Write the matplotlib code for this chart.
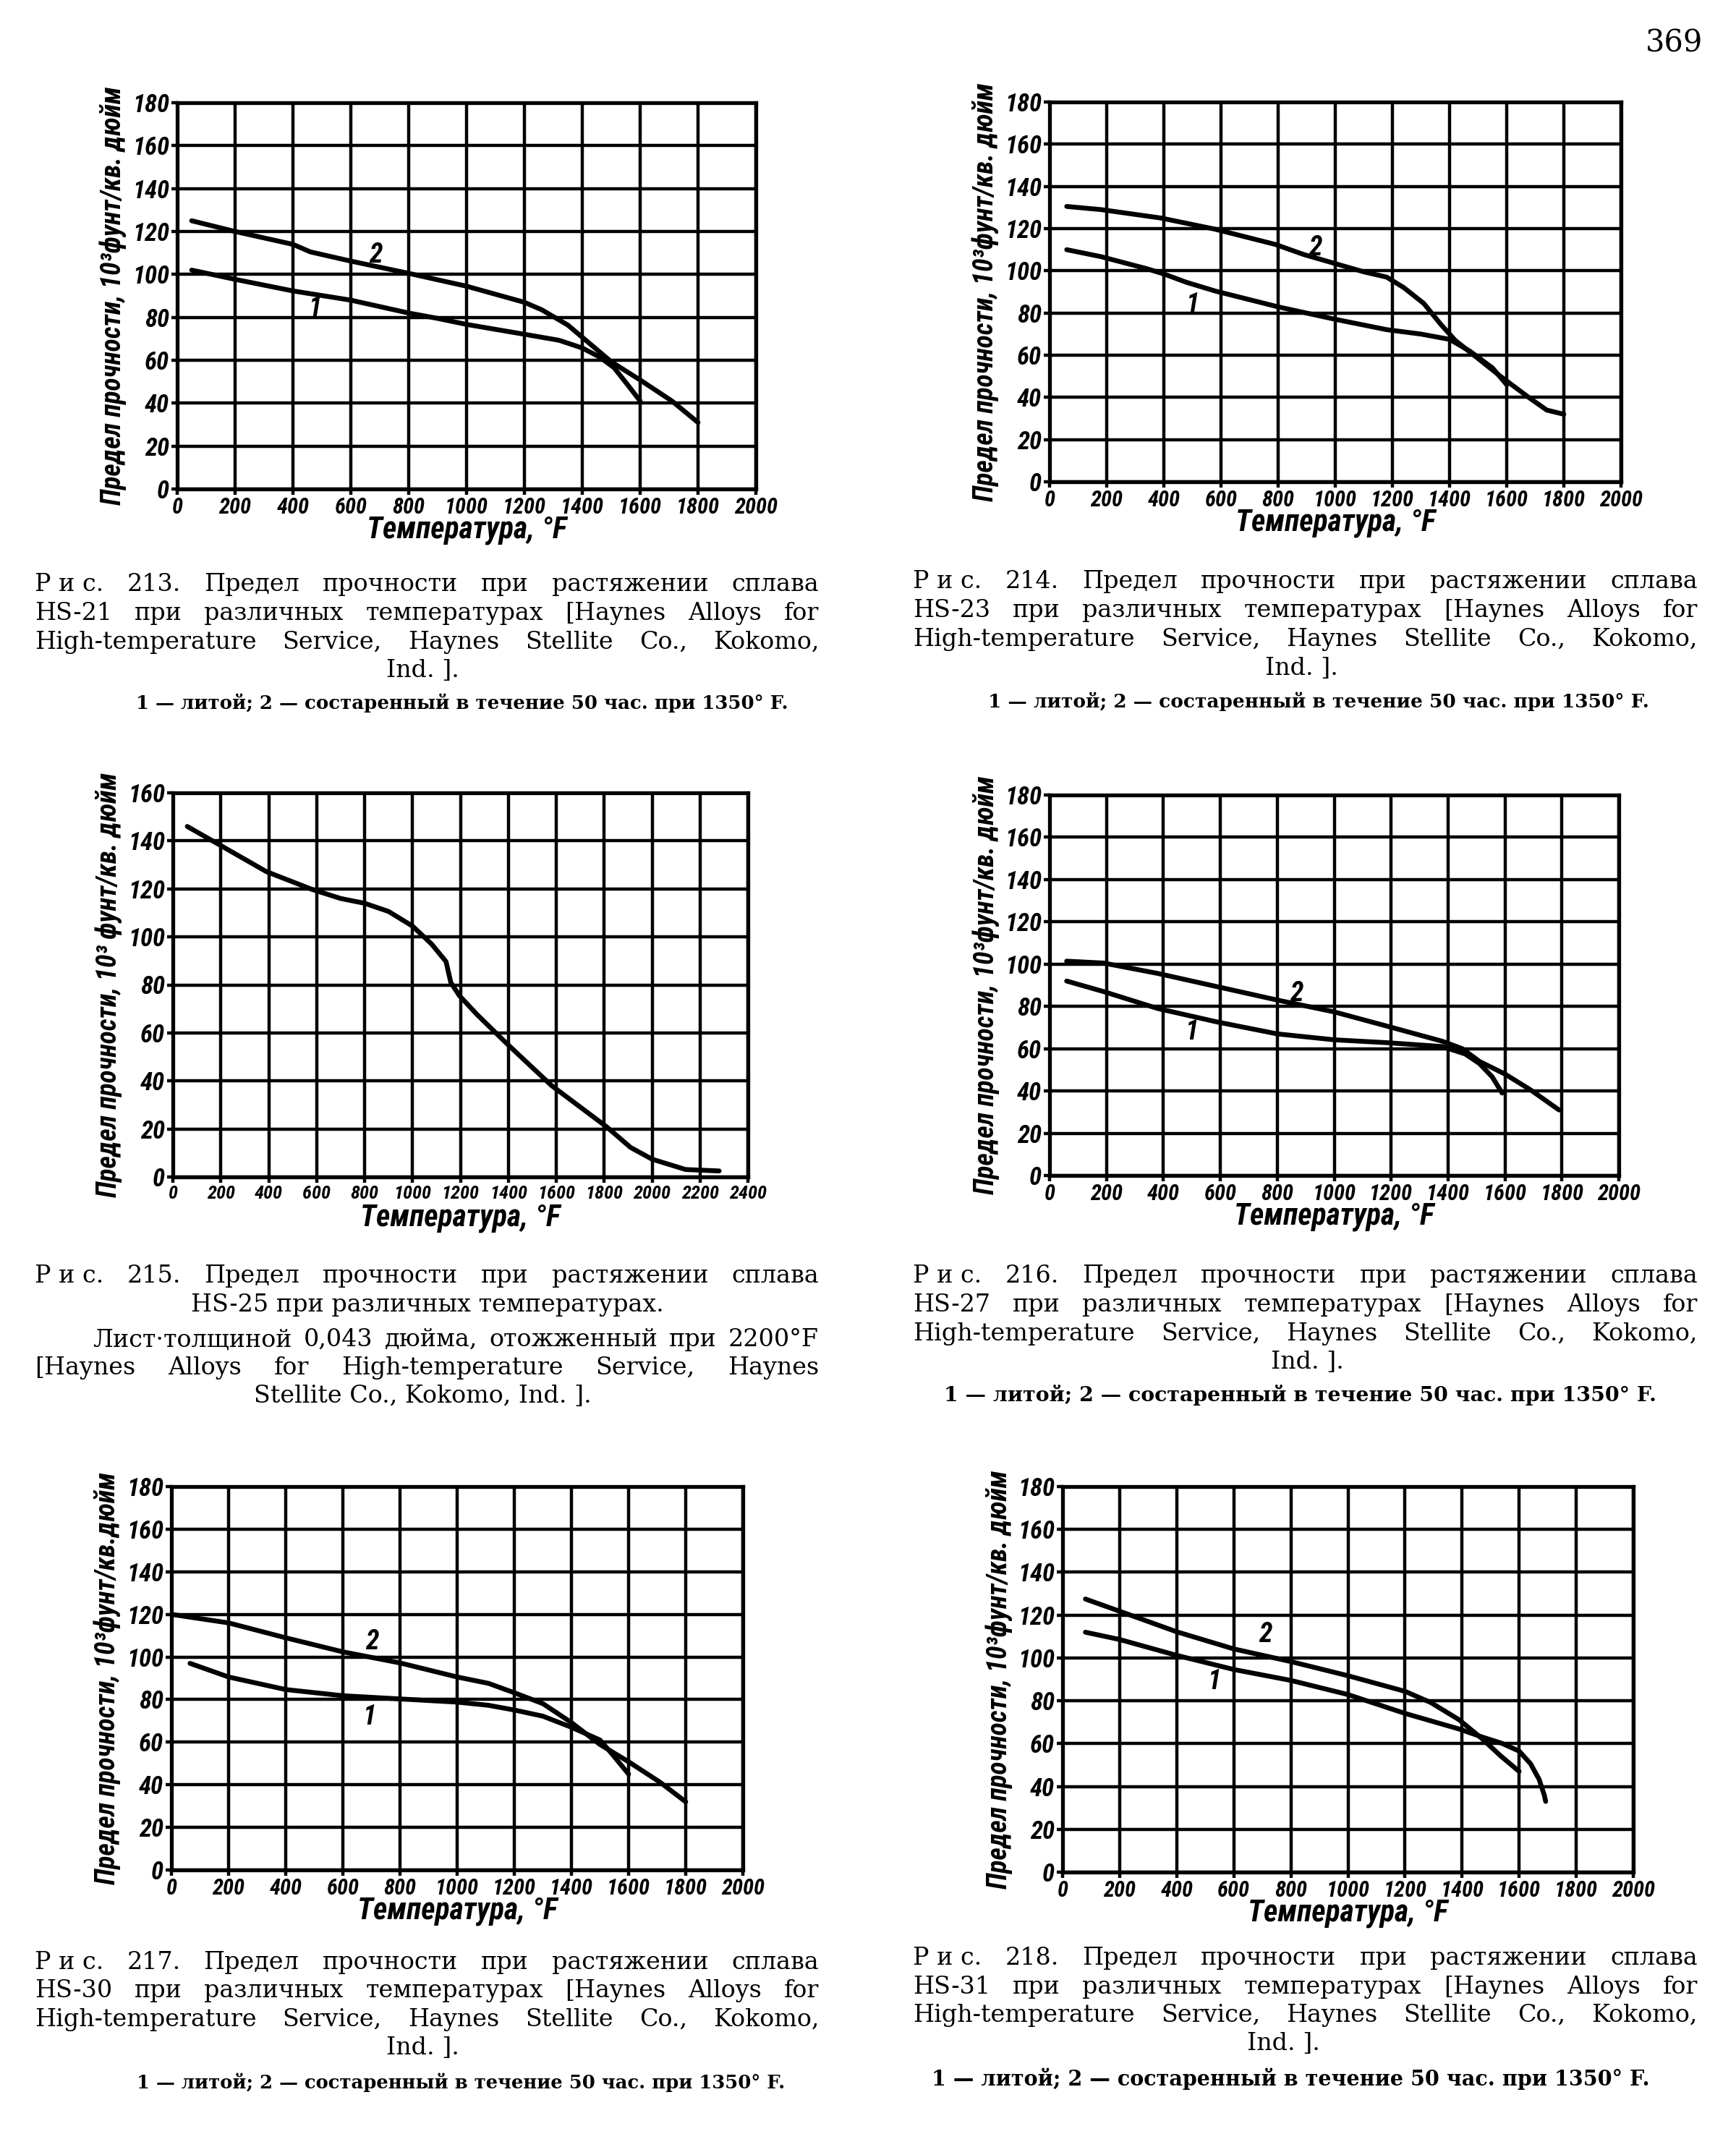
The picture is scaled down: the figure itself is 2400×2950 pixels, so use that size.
import matplotlib
matplotlib.use("Agg")
import matplotlib.pyplot as plt

# ---------------- data ----------------
# Fig. 213, HS-21
fig213_cast_T = [50, 200, 400, 600, 800, 900, 1000, 1200, 1320, 1400, 1460, 1510, 1560, 1600]
fig213_cast_S = [102, 97.7, 92.3, 88, 82, 79.5, 76.7, 72.1, 69.3, 65.7, 61.5, 56.5, 48, 41]
fig213_aged_T = [50, 200, 400, 460, 600, 800, 1000, 1200, 1260, 1350, 1400, 1500, 1600, 1710, 1800]
fig213_aged_S = [125, 120, 114, 110.5, 106.2, 100.5, 94.5, 87, 83.5, 76.4, 70.7, 59.3, 50.8, 41, 31]

# Fig. 214, HS-23
fig214_cast_T = [60, 180, 340, 400, 480, 580, 800, 1000, 1180, 1300, 1400, 1470, 1550, 1600]
fig214_cast_S = [110, 106.7, 101, 98.5, 94.5, 90.4, 82.9, 77, 72.1, 70, 67.5, 62, 54, 46]
fig214_aged_T = [60, 180, 390, 580, 790, 890, 1000, 1100, 1180, 1240, 1310, 1370, 1420, 1500, 1580, 1680, 1740, 1800]
fig214_aged_S = [130.5, 129, 125, 119.7, 112.5, 107.7, 103.4, 99.5, 97, 92, 84.5, 74.5, 67, 58.4, 49.8, 39.7, 34, 32]

# Fig. 215, HS-25
fig215_T = [60, 190, 390, 580, 700, 800, 900, 1000, 1080, 1140, 1160, 1195, 1270, 1390, 1580, 1810, 1910, 2000, 2140, 2280]
fig215_S = [146, 138.6, 127.2, 119.8, 116, 114, 110.6, 104.5, 97, 89.7, 81, 75.6, 67.6, 55.9, 38.1, 20.9, 12.3, 7.4, 3.1, 2.5]

# Fig. 216, HS-27
fig216_cast_T = [60, 190, 380, 590, 800, 1000, 1190, 1380, 1460, 1510, 1555, 1590]
fig216_cast_S = [92, 87, 79, 72.6, 67, 64.2, 62.8, 61, 57.5, 53, 46.7, 39]
fig216_aged_T = [60, 190, 380, 590, 800, 1000, 1190, 1380, 1450, 1510, 1600, 1690, 1790]
fig216_aged_S = [101.4, 100.5, 95.6, 89.3, 83, 77.4, 70.5, 63.5, 60, 54, 48, 40.5, 31]

# Fig. 217, HS-30
fig217_cast_T = [65, 200, 400, 600, 800, 1000, 1110, 1200, 1300, 1400, 1500, 1545, 1600]
fig217_cast_S = [97, 90.6, 84.7, 81.8, 80.3, 78.8, 77.3, 75.1, 72.2, 67, 61, 54, 45]
fig217_aged_T = [0, 200, 400, 600, 800, 1000, 1110, 1200, 1300, 1400, 1500, 1600, 1710, 1800]
fig217_aged_S = [120, 116, 109, 102.4, 97.2, 90.6, 87.6, 83.2, 78.1, 69.2, 58.9, 50.8, 41.2, 32]

# Fig. 218, HS-31
fig218_cast_T = [80, 200, 400, 600, 800, 1000, 1200, 1390, 1470, 1540, 1600, 1640, 1670, 1688, 1693]
fig218_cast_S = [112, 108.6, 101.2, 94.6, 89.5, 82.9, 74.1, 66.8, 63.1, 60.1, 56.5, 50.6, 43.3, 36, 33]
fig218_aged_T = [80, 200, 400, 600, 800, 1000, 1200, 1290, 1390, 1470, 1535, 1600]
fig218_aged_S = [127.5, 121.8, 112.2, 104.2, 98.3, 91.7, 84.4, 79.2, 71.1, 62.3, 54.3, 47]

x_label = "Температура, °F"
y_label_a = "Предел прочности, 10³фунт/кв. дюйм"
y_label_b = "Предел прочности, 10³ фунт/кв. дюйм"
y_label_c = "Предел прочности, 10³фунт/кв.дюйм"

legend_text = "1 — литой; 2 — состаренный в течение 50 час. при 1350° F."
src1 = "High-temperature Service, Haynes Stellite Co., Kokomo,"

# ---------------- figure ----------------
W, H, DPI = 2400, 2950, 100
fig = plt.figure(figsize=(W / DPI, H / DPI), dpi=DPI)
fig.patch.set_facecolor("white")

CF = dict(family=["Roboto Condensed", "Roboto", "DejaVu Sans"], weight="bold", style="italic")
SERIF = ["DejaVu Serif"]


def add_axes(left, right, top, bottom):
    return fig.add_axes([left / W, 1 - bottom / H, (right - left) / W, (bottom - top) / H])


def draw_chart(box, xmax, ymax, curves, labels, ylabel):
    ax = add_axes(*box)
    ax.set_xlim(0, xmax)
    ax.set_ylim(0, ymax)
    xt = list(range(0, xmax + 1, 200))
    yt = list(range(0, ymax + 1, 20))
    ax.set_xticks(xt)
    ax.set_yticks(yt)
    xsize = 22 if xmax <= 2000 else 19
    ax.set_xticklabels([str(v) for v in xt], fontsize=xsize, **CF)
    ax.set_yticklabels([str(v) for v in yt], fontsize=25, **CF)
    ax.grid(True, color="black", lw=3.2)
    ax.set_axisbelow(True)
    for sp in ax.spines.values():
        sp.set_linewidth(3.8)
        sp.set_color("black")
    ax.tick_params(length=6, width=3.2, direction="out", pad=2, colors="black")
    for T, S in curves:
        ax.plot(T, S, color="black", lw=4.8, solid_capstyle="round",
                solid_joinstyle="round", zorder=3)
    for txt, (x, y) in labels:
        ax.text(x, y, txt, fontsize=27, ha="center", va="center", zorder=4, **CF)
    ax.set_ylabel(ylabel, fontsize=27, **CF)
    ax.yaxis.set_label_coords(-0.088, 0.5)
    ax.set_xlabel(x_label, fontsize=30, **CF)
    ax.xaxis.set_label_coords(0.5, -0.068)
    return ax


draw_chart((245, 1045, 142, 676), 2000, 180,
           [(fig213_cast_T, fig213_cast_S), (fig213_aged_T, fig213_aged_S)],
           [("2", (685, 109)), ("1", (478, 84))], y_label_a)
draw_chart((1451, 2241, 141, 666), 2000, 180,
           [(fig214_cast_T, fig214_cast_S), (fig214_aged_T, fig214_aged_S)],
           [("2", (929, 111)), ("1", (501, 84))], y_label_a)
draw_chart((239, 1034, 1096, 1627), 2400, 160,
           [(fig215_T, fig215_S)], [], y_label_b)
draw_chart((1451, 2238, 1099, 1625), 2000, 180,
           [(fig216_cast_T, fig216_cast_S), (fig216_aged_T, fig216_aged_S)],
           [("2", (866, 86)), ("1", (502, 68))], y_label_a)
draw_chart((237, 1027, 2055, 2585), 2000, 180,
           [(fig217_cast_T, fig217_cast_S), (fig217_aged_T, fig217_aged_S)],
           [("2", (703, 107)), ("1", (695, 72))], y_label_c)
draw_chart((1469, 2258, 2055, 2588), 2000, 180,
           [(fig218_cast_T, fig218_cast_S), (fig218_aged_T, fig218_aged_S)],
           [("2", (710, 111)), ("1", (532, 89))], y_label_a)

# ---------------- captions ----------------
renderer = fig.canvas.get_renderer()


def text_w(t):
    return t.get_window_extent(renderer).width


def justified(text, x0, x1, yc, size=24, weight="normal"):
    toks = text.split(" ")
    yb = 1 - (yc + 11) / H
    while True:
        arts = [fig.text(0, yb, t, fontsize=size, family=SERIF, weight=weight,
                         ha="left", va="baseline") for t in toks]
        ws = [text_w(a) for a in arts]
        minsp = 0.22 * size * DPI / 72
        need = sum(ws) + minsp * (len(toks) - 1)
        if need <= (x1 - x0) or size < 8:
            break
        for a in arts:
            a.remove()
        size *= (x1 - x0) / need * 0.995
    gap = ((x1 - x0) - sum(ws)) / max(len(toks) - 1, 1)
    x = x0
    for a, w in zip(arts, ws):
        a.set_x(x / W)
        x += w + gap


def centered(text, cx, yc, size=24, weight="normal"):
    fig.text(cx / W, 1 - (yc + 11) / H, text, fontsize=size, family=SERIF,
             weight=weight, ha="center", va="baseline")


def fitted(text, x0, x1, yc, size=19, weight="bold"):
    a = fig.text((x0 + x1) / 2 / W, 1 - (yc + 9) / H, text, fontsize=size,
                 family=SERIF, weight=weight, ha="center", va="baseline")
    w = text_w(a)
    a.set_fontsize(size * (x1 - x0) / w)


LX0, LX1 = 48, 1132
RX0, RX1 = 1262, 2347

# Fig 213
justified("Р\u00a0и\u00a0с. 213. Предел прочности при растяжении сплава", LX0, LX1, 806)
justified("HS-21 при различных температурах [Haynes Alloys for", LX0, LX1, 846)
justified(src1, LX0, LX1, 886)
centered("Ind. ].", 584, 925)
fitted(legend_text, 188, 1089, 971)

# Fig 214
justified("Р\u00a0и\u00a0с. 214. Предел прочности при растяжении сплава", RX0, RX1, 802)
justified("HS-23 при различных температурах [Haynes Alloys for", RX0, RX1, 842)
justified(src1, RX0, RX1, 882)
centered("Ind. ].", 1799, 922)
fitted(legend_text, 1365, 2281, 969)

# Fig 215
justified("Р\u00a0и\u00a0с. 215. Предел прочности при растяжении сплава", LX0, LX1, 1762)
centered("HS-25 при различных температурах.", 591, 1802)
justified("Лист·толщиной 0,043 дюйма, отожженный при 2200°F", 128, LX1, 1850)
justified("[Haynes Alloys for High-temperature Service, Haynes", LX0, LX1, 1889)
centered("Stellite Co., Kokomo, Ind. ].", 584, 1928)

# Fig 216
justified("Р\u00a0и\u00a0с. 216. Предел прочности при растяжении сплава", RX0, RX1, 1762)
justified("HS-27 при различных температурах [Haynes Alloys for", RX0, RX1, 1802)
justified(src1, RX0, RX1, 1842)
centered("Ind. ].", 1807, 1881)
fitted(legend_text, 1307, 2288, 1928)

# Fig 217
justified("Р\u00a0и\u00a0с. 217. Предел прочности при растяжении сплава", LX0, LX1, 2711)
justified("HS-30 при различных температурах [Haynes Alloys for", LX0, LX1, 2750)
justified(src1, LX0, LX1, 2790)
centered("Ind. ].", 584, 2829)
fitted(legend_text, 188, 1086, 2878)

# Fig 218
justified("Р\u00a0и\u00a0с. 218. Предел прочности при растяжении сплава", RX0, RX1, 2705)
justified("HS-31 при различных температурах [Haynes Alloys for", RX0, RX1, 2745)
justified(src1, RX0, RX1, 2784)
centered("Ind. ].", 1774, 2823)
fitted(legend_text, 1288, 2281, 2874)

# page number
fig.text(2314 / W, 1 - 72 / H, "369", fontsize=30, family=SERIF, ha="center", va="baseline")

fig.savefig("out.png", dpi=DPI, facecolor="white")
